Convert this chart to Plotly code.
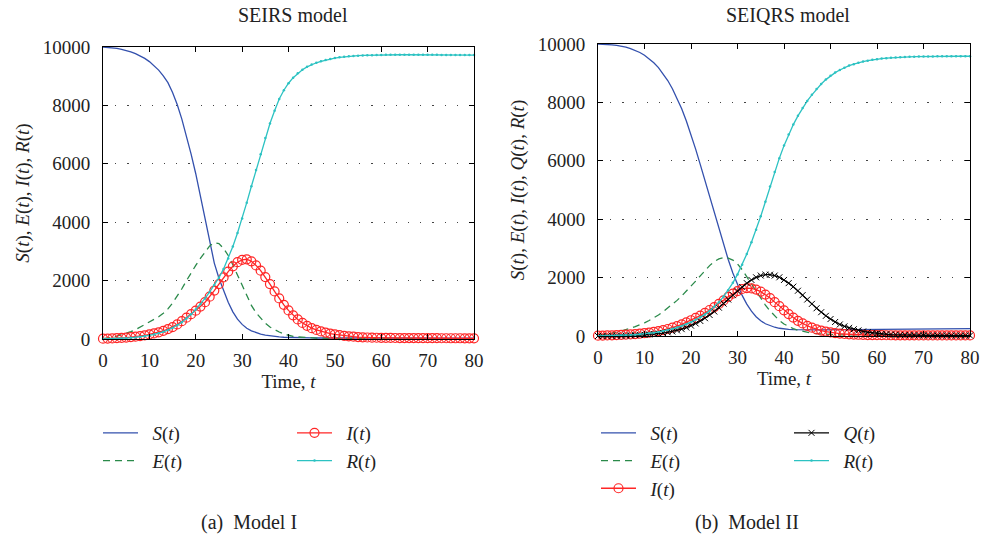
import plotly.graph_objects as go

t = list(range(81))

# Model I (SEIRS)
S1 = [10000, 9990, 9975, 9950, 9920, 9880, 9830, 9770, 9700, 9610,
      9500, 9370, 9210, 9010, 8780, 8440, 8030, 7530, 6960, 6330,
      5660, 4900, 4060, 3270, 2600, 2080, 1650, 1260, 930, 680,
      500, 370, 280, 215, 170, 135, 108, 88, 72, 60,
      52, 47, 44, 41, 39, 37, 35, 34, 33, 32,
      31, 30, 30, 29, 29, 28, 28, 28, 28, 28,
      28, 28, 28, 28, 29, 29, 29, 29, 30, 30,
      30, 30, 31, 31, 31, 32, 32, 32, 33, 33, 33]
E1 = [10, 30, 60, 100, 145, 195, 250, 320, 410, 490,
      580, 660, 760, 880, 1030, 1230, 1460, 1720, 2000, 2270,
      2520, 2760, 2990, 3190, 3300, 3270, 3100, 2860, 2540, 2190,
      1800, 1450, 1150, 900, 700, 540, 410, 320, 240, 170,
      120, 90, 70, 55, 45, 38, 32, 28, 24, 21,
      19, 17, 16, 15, 14, 13, 12, 12, 11, 11,
      10, 10, 10, 9, 9, 9, 9, 8, 8, 8,
      8, 8, 8, 8, 8, 8, 8, 8, 8, 8, 8]
I1 = [10, 14, 20, 28, 38, 50, 64, 80, 100, 125,
      155, 190, 230, 280, 340, 410, 500, 610, 730, 850,
      970, 1110, 1260, 1450, 1660, 1880, 2110, 2310, 2490, 2630,
      2710, 2730, 2660, 2520, 2340, 2120, 1880, 1630, 1390, 1170,
      980, 810, 670, 550, 450, 370, 310, 260, 220, 185,
      155, 130, 110, 92, 78, 67, 58, 52, 47, 43,
      40, 38, 36, 34, 33, 32, 31, 30, 29, 28,
      28, 27, 27, 26, 26, 25, 25, 25, 24, 24, 24]
R1 = [0, 3, 7, 12, 19, 28, 40, 55, 73, 95,
      122, 155, 195, 245, 305, 380, 470, 575, 700, 845,
      1010, 1190, 1390, 1610, 1850, 2100, 2400, 2760, 3170, 3630,
      4130, 4670, 5230, 5790, 6330, 6880, 7380, 7820, 8220, 8520,
      8760, 8950, 9100, 9220, 9320, 9400, 9460, 9510, 9555, 9590,
      9620, 9645, 9665, 9680, 9692, 9702, 9710, 9716, 9721, 9725,
      9728, 9731, 9733, 9734, 9735, 9735, 9735, 9735, 9734, 9734,
      9733, 9732, 9731, 9730, 9729, 9728, 9727, 9726, 9725, 9724, 9723]

# Model II (SEIQRS)
S2 = [10000, 9995, 9985, 9970, 9950, 9925, 9890, 9845, 9785, 9710,
      9615, 9500, 9360, 9190, 8990, 8750, 8470, 8150, 7780, 7360,
      6900, 6400, 5870, 5320, 4760, 4200, 3650, 3120, 2620, 2160,
      1750, 1390, 1090, 850, 660, 520, 420, 350, 300, 265,
      240, 226, 216, 210, 206, 205, 206, 208, 210, 212,
      214, 215, 217, 218, 220, 221, 222, 224, 225, 226,
      228, 229, 230, 232, 233, 234, 235, 237, 238, 239,
      240, 241, 242, 243, 244, 245, 246, 247, 248, 249, 250]
E2 = [10, 30, 60, 95, 130, 170, 215, 265, 320, 380,
      450, 530, 620, 720, 830, 950, 1080, 1220, 1370, 1530,
      1700, 1880, 2060, 2240, 2410, 2550, 2640, 2680, 2670, 2600,
      2470, 2270, 2030, 1770, 1510, 1280, 1060, 860, 680, 530,
      410, 320, 250, 195, 155, 125, 100, 82, 68, 58,
      50, 45, 41, 38, 35, 33, 31, 30, 29, 28,
      27, 26, 26, 25, 25, 24, 24, 24, 23, 23,
      23, 23, 22, 22, 22, 22, 22, 22, 22, 22, 22]
I2 = [10, 14, 18, 23, 29, 36, 44, 54, 66, 80,
      97, 117, 140, 167, 200, 240, 285, 340, 400, 470,
      540, 620, 700, 790, 890, 990, 1100, 1220, 1340, 1450,
      1540, 1610, 1640, 1630, 1590, 1520, 1420, 1300, 1160, 1020,
      880, 750, 630, 520, 430, 350, 285, 230, 185, 150,
      122, 100, 82, 68, 57, 48, 42, 37, 33, 30,
      28, 27, 26, 25, 24, 23, 23, 22, 22, 21,
      21, 21, 20, 20, 20, 20, 20, 19, 19, 19, 19]
Q2 = [0, 1, 3, 5, 8, 11, 15, 20, 26, 33,
      42, 53, 66, 82, 100, 125, 155, 190, 235, 290,
      355, 430, 515, 610, 720, 840, 970, 1110, 1250, 1400,
      1540, 1680, 1810, 1920, 2010, 2070, 2100, 2100, 2070, 2010,
      1920, 1810, 1690, 1550, 1400, 1250, 1100, 950, 815, 690,
      580, 480, 395, 330, 280, 230, 190, 155, 128, 105,
      87, 72, 60, 50, 43, 37, 33, 29, 26, 24,
      22, 21, 20, 19, 18, 18, 17, 17, 16, 16, 15]
R2 = [0, 2, 5, 9, 14, 20, 27, 36, 47, 60,
      75, 93, 115, 140, 170, 205, 245, 290, 345, 405,
      475, 555, 640, 740, 860, 1000, 1160, 1350, 1570, 1820,
      2110, 2440, 2810, 3210, 3640, 4100, 4600, 5120, 5620, 6090,
      6520, 6900, 7240, 7540, 7810, 8050, 8260, 8460, 8630, 8780,
      8910, 9020, 9110, 9190, 9260, 9310, 9360, 9400, 9430, 9460,
      9480, 9500, 9515, 9528, 9538, 9547, 9554, 9560, 9565, 9569,
      9572, 9574, 9576, 9577, 9578, 9579, 9580, 9580, 9580, 9580, 9580]

titles = ["SEIRS model", "SEIQRS model"]
captions = ["(a)  Model I", "(b)  Model II"]
x_ticks = [0, 10, 20, 30, 40, 50, 60, 70, 80]
y_ticks = [0, 2000, 4000, 6000, 8000, 10000]
y_ticktext = ["0", "2000", "4000", "6000", "8000", "10000"]

W, H = 983, 537
FONT = "Liberation Serif"
TXT = "#222222"
BLUE = "#3350ad"
GREEN = "#2a8a4a"
RED = "#ff2626"
CYAN = "#2cc2c2"
SP = "\u00a0\u00a0"

def px(x):
    return x / W

def py(y):
    return 1 - y / H

fig = go.Figure()

def add(x, y, name, xa, ya, leg, color, dash="solid", symbol=None, msize=None, mline=None):
    kw = dict(x=x, y=y, name=SP + name, xaxis=xa, yaxis=ya, legend=leg,
              line=dict(color=color, width=1.3, dash=dash), cliponaxis=False)
    if symbol is None:
        kw["mode"] = "lines"
    else:
        kw["mode"] = "lines+markers"
        m = dict(symbol=symbol, size=msize, color=color)
        if mline is not None:
            m["line"] = dict(color=color, width=mline)
        kw["marker"] = m
    fig.add_trace(go.Scatter(**kw))

nS = "<i>S</i>(<i>t</i>)"
nE = "<i>E</i>(<i>t</i>)"
nI = "<i>I</i>(<i>t</i>)"
nQ = "<i>Q</i>(<i>t</i>)"
nR = "<i>R</i>(<i>t</i>)"

# Left panel
add(t, S1, nS, "x", "y", "legend", BLUE)
add(t, E1, nE, "x", "y", "legend", GREEN, dash="7px,5px")
add(t, I1, nI, "x", "y", "legend2", RED, symbol="circle-open", msize=9, mline=1.2)
add(t, R1, nR, "x", "y", "legend2", CYAN, symbol="circle", msize=2.5)
# Right panel
add(t, S2, nS, "x2", "y2", "legend3", BLUE)
add(t, E2, nE, "x2", "y2", "legend3", GREEN, dash="7px,5px")
add(t, I2, nI, "x2", "y2", "legend3", RED, symbol="circle-open", msize=9, mline=1.2)
add(t, Q2, nQ, "x2", "y2", "legend4", "black", symbol="x-thin-open", msize=6, mline=1)
add(t, R2, nR, "x2", "y2", "legend4", CYAN, symbol="circle", msize=2.5)

def xaxis(dom, anchor):
    return dict(domain=dom, anchor=anchor, range=[0, 80], tickvals=x_ticks, ticks="inside", ticklen=5,
                tickcolor="black", showline=True, linecolor="black", linewidth=1,
                mirror="ticks", showgrid=False, zeroline=False, automargin=False,
                tickfont=dict(family=FONT, size=19, color=TXT),
                ticklabelstandoff=4,
                title=dict(text="Time, <i>t</i>", font=dict(family=FONT, size=19, color=TXT), standoff=2))

def yaxis(dom, anchor, title):
    return dict(domain=dom, anchor=anchor, range=[0, 10000], tickvals=y_ticks, ticktext=y_ticktext,
                ticks="inside", ticklen=5,
                tickcolor="black", showline=True, linecolor="black", linewidth=1,
                mirror="ticks", showgrid=True, gridcolor="#444", gridwidth=1, griddash="1.2px,11px",
                zeroline=False, automargin=False, tickfont=dict(family=FONT, size=19, color=TXT),
                ticklabelstandoff=8,
                title=dict(text=title, font=dict(family=FONT, size=19, color=TXT), standoff=8))

yt1 = "<i>S</i>(<i>t</i>), <i>E</i>(<i>t</i>), <i>I</i>(<i>t</i>), <i>R</i>(<i>t</i>)"
yt2 = "<i>S</i>(<i>t</i>), <i>E</i>(<i>t</i>), <i>I</i>(<i>t</i>), <i>Q</i>(<i>t</i>), <i>R</i>(<i>t</i>)"

leg_common = dict(bgcolor="rgba(0,0,0,0)", borderwidth=0, itemwidth=35, yanchor="top",
                  xanchor="left", font=dict(family=FONT, size=19, color=TXT),
                  itemclick=False, itemdoubleclick=False)

def ann(text, x, y, size):
    return dict(text=text, x=px(x), y=py(y), xref="paper", yref="paper", showarrow=False,
                xanchor="center", yanchor="middle", font=dict(family=FONT, size=size, color=TXT))

ly = py(432 - 18)
fig.update_layout(
    width=W, height=H, margin=dict(l=0, r=0, t=0, b=0, autoexpand=False),
    paper_bgcolor="white", plot_bgcolor="white", showlegend=True,
    xaxis=xaxis([px(103), px(474)], "y"),
    yaxis=yaxis([py(339), py(47)], "x", yt1),
    xaxis2=xaxis([px(598), px(970)], "y2"),
    yaxis2=yaxis([py(336), py(44)], "x2", yt2),
    legend=dict(**leg_common, x=px(98), y=ly),
    legend2=dict(**leg_common, x=px(292), y=ly),
    legend3=dict(**leg_common, x=px(596), y=ly),
    legend4=dict(**leg_common, x=px(789), y=ly),
    annotations=[
        ann(titles[0], 293, 15, 20),
        ann(titles[1], 788, 15, 20),
        ann(captions[0], 249, 522, 20),
        ann(captions[1], 747, 522, 20),
    ],
)

fig.write_html("out.html", config={"displayModeBar": False},
               post_script="document.body.style.margin='0px';")
